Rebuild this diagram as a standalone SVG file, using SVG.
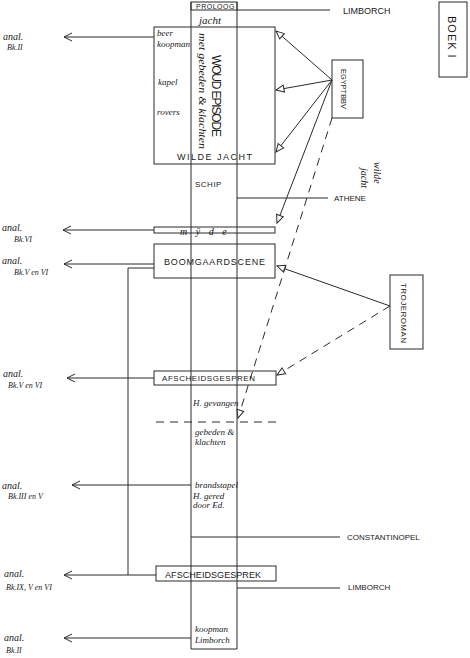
<svg xmlns="http://www.w3.org/2000/svg" width="470" height="658" viewBox="0 0 470 658">
<style>
.ln{stroke:#2a2a2a;stroke-width:1;fill:none}
.ds{stroke:#2a2a2a;stroke-width:1;fill:none;stroke-dasharray:8,6}
.bx{stroke:#2a2a2a;stroke-width:1;fill:none}
.cap{font-family:"Liberation Sans",Arial,sans-serif;fill:#1a1a1a}
.hw{font-family:"Liberation Serif","Times New Roman",serif;font-style:italic;fill:#1a1a1a}
</style>
<defs>
<marker id="chev" markerUnits="userSpaceOnUse" markerWidth="10" markerHeight="10" refX="9" refY="5" orient="auto">
<path d="M1,1 L9,5 L1,9" stroke="#2a2a2a" stroke-width="1" fill="none"/>
</marker>
<marker id="tri" markerUnits="userSpaceOnUse" markerWidth="10" markerHeight="10" refX="9" refY="5" orient="auto">
<path d="M1,1.5 L9,5 L1,8.5 Z" stroke="#2a2a2a" stroke-width="1" fill="#fff"/>
</marker>
</defs>
<rect width="470" height="658" fill="#fff"/>

<g id="connectors">
<line class="ln" x1="191" y1="2" x2="191" y2="649"/>
<line class="ln" x1="237" y1="2" x2="237" y2="649"/>
<line class="ln" x1="191" y1="649" x2="237" y2="649"/>
<line class="ln" x1="237" y1="10" x2="330" y2="10"/>
<line class="ln" x1="237" y1="198" x2="328" y2="198"/>
<line class="ln" x1="191" y1="537" x2="340" y2="537"/>
<line class="ln" x1="237" y1="588" x2="340" y2="588"/>
<line class="ds" x1="156" y1="422" x2="276" y2="422"/>
<line class="ln" x1="154" y1="37" x2="64" y2="37" marker-end="url(#chev)"/>
<line class="ln" x1="154" y1="230" x2="63" y2="230" marker-end="url(#chev)"/>
<line class="ln" x1="154" y1="264" x2="64" y2="264" marker-end="url(#chev)"/>
<polyline class="ln" points="154,268 128,268 128,575"/>
<line class="ln" x1="154" y1="378" x2="67" y2="378" marker-end="url(#chev)"/>
<line class="ln" x1="191" y1="485" x2="72" y2="485" marker-end="url(#chev)"/>
<line class="ln" x1="156" y1="575" x2="64" y2="575" marker-end="url(#chev)"/>
<line class="ln" x1="191" y1="638" x2="64" y2="638" marker-end="url(#chev)"/>
<line class="ln" x1="332" y1="80" x2="276" y2="31" marker-end="url(#tri)"/>
<line class="ln" x1="332" y1="80" x2="276" y2="90" marker-end="url(#tri)"/>
<line class="ln" x1="332" y1="80" x2="276" y2="152" marker-end="url(#tri)"/>
<line class="ln" x1="332" y1="80" x2="277" y2="223" marker-end="url(#tri)"/>
<line class="ds" x1="332" y1="118" x2="238" y2="418" marker-end="url(#tri)"/>
<line class="ln" x1="390" y1="306" x2="277" y2="266" marker-end="url(#tri)"/>
<line class="ds" x1="390" y1="306" x2="277" y2="375" marker-end="url(#tri)"/>
</g>

<g id="prologue">
<rect class="bx" x="191" y="2" width="46" height="8"/>
<text class="cap" x="196" y="9" font-size="7" letter-spacing="0.5">PROLOOG</text>
</g>
<text class="cap" x="343" y="14" font-size="9">LIMBORCH</text>
<text class="hw" x="199" y="24" font-size="11">jacht</text>

<g id="woudepisode">
<rect class="bx" x="154" y="27" width="121" height="137"/>
<text class="hw" x="157" y="36" font-size="9">beer</text>
<text class="hw" x="157" y="47" font-size="9">koopman</text>
<text class="hw" x="158" y="85" font-size="9">kapel</text>
<text class="hw" x="157" y="115" font-size="9">rovers</text>
<text class="cap" font-size="12" transform="translate(212,55) rotate(90)" textLength="82" lengthAdjust="spacing">WOUD EPISODE</text>
<text class="hw" font-size="10" transform="translate(199,33) rotate(90)" textLength="116" lengthAdjust="spacingAndGlyphs">met gebeden &amp; klachten</text>
<text class="cap" x="177" y="160" font-size="9" letter-spacing="1.5">WILDE JACHT</text>
</g>

<g id="egypte">
<rect class="bx" x="332" y="60" width="31" height="58"/>
<text class="cap" font-size="8" transform="translate(341,69) rotate(90)" textLength="40" lengthAdjust="spacingAndGlyphs">EGYPTBBV</text>
</g>

<g id="boek">
<rect class="bx" x="439" y="2" width="28" height="75"/>
<text class="cap" font-size="11" transform="translate(448,16) rotate(90)" letter-spacing="1">BOEK  I</text>
</g>

<text class="cap" x="195" y="187" font-size="8" letter-spacing="0.5">SCHIP</text>
<text class="cap" x="334" y="201" font-size="8">ATHENE</text>
<text class="hw" font-size="10" transform="translate(374,162) rotate(90)">wilde</text>
<text class="hw" font-size="10" transform="translate(361,168) rotate(90)">jacht</text>

<g id="mijde">
<rect class="bx" x="154" y="227" width="121" height="6"/>
<text class="hw" x="180" y="235" font-size="10" letter-spacing="3">m ÿ d e</text>
</g>

<g id="boomgaardscene">
<rect class="bx" x="154" y="244" width="121" height="34"/>
<text class="cap" x="164" y="265" font-size="9" textLength="101" lengthAdjust="spacing">BOOMGAARDSCENE</text>
</g>

<g id="trojeroman">
<rect class="bx" x="390" y="275" width="33" height="74"/>
<text class="cap" font-size="8" transform="translate(401,283) rotate(90)" textLength="60" lengthAdjust="spacing">TROJEROMAN</text>
</g>

<g id="afscheid1">
<rect class="bx" x="154" y="371" width="122" height="14"/>
<text class="cap" x="162" y="381" font-size="8" textLength="93" lengthAdjust="spacing">AFSCHEIDSGESPREN</text>
</g>

<text class="hw" x="193" y="406" font-size="9">H. gevangen</text>
<text class="hw" x="195" y="435" font-size="9">gebeden &amp;</text>
<text class="hw" x="195" y="445" font-size="9">klachten</text>
<text class="hw" x="195" y="488" font-size="9">brandstapel</text>
<text class="hw" x="193" y="499" font-size="9">H. gered</text>
<text class="hw" x="193" y="508" font-size="9">door Ed.</text>
<text class="cap" x="347" y="540" font-size="8">CONSTANTINOPEL</text>

<g id="afscheid2">
<rect class="bx" x="156" y="566" width="120" height="15"/>
<text class="cap" x="165" y="578" font-size="9" textLength="96" lengthAdjust="spacing">AFSCHEIDSGESPREK</text>
</g>
<text class="cap" x="348" y="590" font-size="8">LIMBORCH</text>
<text class="hw" x="195" y="632" font-size="9">koopman</text>
<text class="hw" x="195" y="643" font-size="9">Limborch</text>

<g id="refs">
<text class="hw" x="3" y="40" font-size="10">anal.</text>
<text class="hw" x="7" y="50" font-size="8">Bk.II</text>
<text class="hw" x="2" y="231" font-size="10">anal.</text>
<text class="hw" x="14" y="242" font-size="8">Bk.VI</text>
<text class="hw" x="2" y="264" font-size="10">anal.</text>
<text class="hw" x="14" y="275" font-size="8">Bk.V en VI</text>
<text class="hw" x="3" y="377" font-size="10">anal.</text>
<text class="hw" x="8" y="388" font-size="8">Bk.V en VI</text>
<text class="hw" x="2" y="489" font-size="10">anal.</text>
<text class="hw" x="8" y="499" font-size="8">Bk.III en V</text>
<text class="hw" x="4" y="577" font-size="10">anal.</text>
<text class="hw" x="6" y="590" font-size="8">Bk.IX, V en VI</text>
<text class="hw" x="4" y="641" font-size="10">anal.</text>
<text class="hw" x="6" y="653" font-size="8">Bk.II</text>
</g>
</svg>
